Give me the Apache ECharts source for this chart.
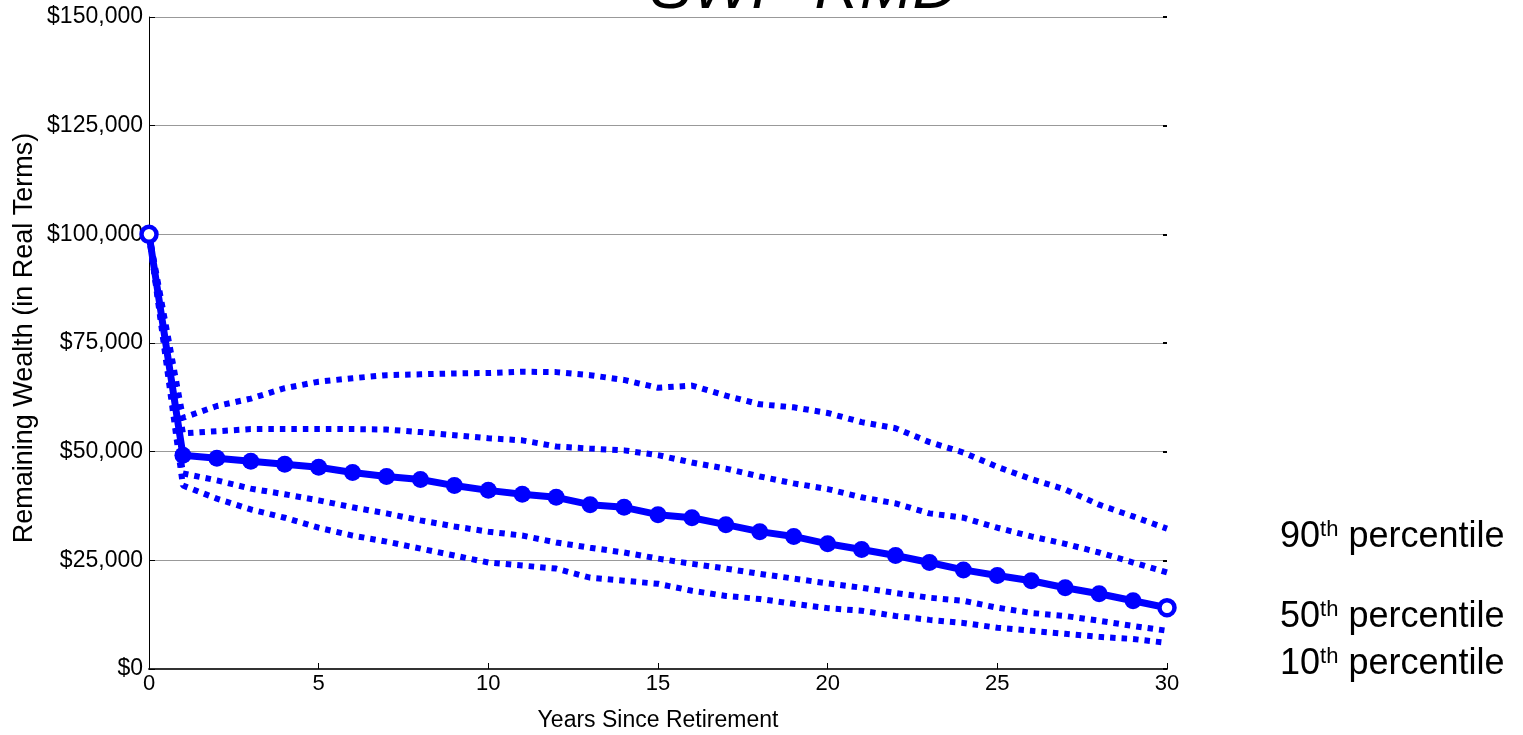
<!DOCTYPE html>
<html>
<head>
<meta charset="utf-8">
<script src="https://cdn.jsdelivr.net/npm/echarts@6/dist/echarts.min.js"></script>
<style>
html,body{margin:0;padding:0;background:#fff;}
#chart{width:1523px;height:735px;}
</style>
</head>
<body>
<div id="chart"></div>
<script>
var years = [0,1,2,3,4,5,6,7,8,9,10,11,12,13,14,15,16,17,18,19,20,21,22,23,24,25,26,27,28,29,30];
var p90 = [100000,57800,60500,62200,64600,66100,66900,67600,67800,68000,68100,68400,68300,67600,66500,64700,65200,62900,60900,60200,58900,56800,55400,52200,49800,46500,43700,41300,37800,35100,32300];
var p75 = [100000,54200,54700,55200,55200,55200,55200,55100,54500,53800,53100,52600,51200,50700,50300,49200,47500,46100,44300,42700,41400,39500,38100,35800,34800,32500,30500,28800,26800,24500,22200];
var p50 = [100000,49200,48500,47800,47100,46400,45200,44300,43600,42200,41100,40200,39500,37800,37200,35500,34800,33200,31600,30500,28800,27500,26100,24500,22800,21500,20300,18700,17300,15700,14100];
var p25 = [100000,45000,43400,41500,40200,38800,37200,35800,34200,32800,31600,30700,29100,27900,26800,25400,24200,23100,21900,20800,19700,18700,17500,16400,15700,14100,12900,12200,11100,9900,8800];
var p10 = [100000,42200,39200,36700,34800,32500,30700,29300,27700,26100,24500,23800,23100,21000,20300,19600,18000,16800,16100,15000,14000,13400,12200,11300,10600,9500,8800,8100,7400,6900,6000];
var titleText = 'SWP-RMD';
var xName = 'Years Since Retirement';
var yName = 'Remaining Wealth (in Real Terms)';
var pctLabels = ['90', '50', '10'];

var FONT = 'Liberation Sans, Arial, sans-serif';
var BLUE = '#0000ff';

function pairs(arr){ return years.map(function(x,i){ return [x, arr[i]]; }); }
function money(v){ return '$' + String(v).replace(/\B(?=(\d{3})+(?!\d))/g, ','); }

function dotted(name, arr){
  return {
    name: name, type: 'line', data: pairs(arr), symbol: 'none', z: 2,
    lineStyle: { color: BLUE, width: 6, type: [5.5, 6], cap: 'butt' },
    silent: true, animation: false
  };
}

var medianData = pairs(p50).map(function(p, i){
  var item = { value: p };
  if (i === 0 || i === p50.length - 1) {
    item.itemStyle = { color: '#ffffff', borderColor: BLUE, borderWidth: 4.5 };
    item.symbolSize = 15;
  }
  return item;
});

function pctText(label, y){
  return {
    type: 'text', left: 1280, top: y - 18, z: 10,
    style: {
      text: '{n|' + label + '}{s|th}{n| percentile}',
      fill: '#000',
      rich: {
        n: { fontSize: 36, fontFamily: FONT, lineHeight: 36, fill: '#000' },
        s: { fontSize: 22, fontFamily: FONT, lineHeight: 20, verticalAlign: 'top', fill: '#000' }
      }
    }
  };
}

var chart = echarts.init(document.getElementById('chart'), null, { renderer: 'canvas' });
chart.setOption({
  animation: false,
  backgroundColor: '#fff',
  grid: { left: 149, right: 356, top: 17, bottom: 66, containLabel: false },
  xAxis: {
    type: 'value', min: 0, max: 30, interval: 5,
    axisLine: { show: true, onZero: false, lineStyle: { color: '#333', width: 2 } },
    axisTick: { show: true, inside: true, length: 6, lineStyle: { color: '#000', width: 1 } },
    axisLabel: { color: '#000', fontSize: 22, fontFamily: FONT, margin: 4 },
    splitLine: { show: false }
  },
  yAxis: [{
    type: 'value', min: 0, max: 150000, interval: 25000,
    axisLine: { show: true, lineStyle: { color: '#000', width: 1 } },
    axisTick: { show: true, inside: true, length: 6, lineStyle: { color: '#000' } },
    axisLabel: { color: '#000', fontSize: 23, fontFamily: FONT, margin: 6, formatter: money },
    splitLine: { show: true, lineStyle: { color: '#999', width: 1 } }
  }, {
    type: 'value', min: 0, max: 150000, interval: 25000, position: 'right',
    axisLine: { show: false },
    axisTick: { show: true, inside: true, length: 4, lineStyle: { color: '#000', width: 2 } },
    axisLabel: { show: false },
    splitLine: { show: false }
  }],
  series: [
    dotted('90th percentile', p90),
    dotted('75th percentile', p75),
    dotted('25th percentile', p25),
    dotted('10th percentile', p10),
    {
      name: '50th percentile', type: 'line', data: medianData, z: 3,
      symbol: 'circle', symbolSize: 17, showAllSymbol: true,
      itemStyle: { color: BLUE },
      lineStyle: { color: BLUE, width: 7 },
      silent: true, animation: false
    }
  ],
  graphic: [
    { type: 'text', x: 804, y: -10, z: 10,
      style: { text: titleText, fontSize: 63, fontStyle: 'italic', fontFamily: FONT, fill: '#000', align: 'center', verticalAlign: 'middle' } },
    { type: 'text', x: 658, y: 721, z: 10,
      style: { text: xName, fontSize: 23, fontFamily: FONT, fill: '#000', align: 'center', verticalAlign: 'middle' } },
    { type: 'text', x: 25, y: 338, rotation: Math.PI / 2, z: 10,
      style: { text: yName, fontSize: 27, fontFamily: FONT, fill: '#000', align: 'center', verticalAlign: 'middle' } },
    pctText(pctLabels[0], 537),
    pctText(pctLabels[1], 617),
    pctText(pctLabels[2], 664)
  ]
});
</script>
</body>
</html>
